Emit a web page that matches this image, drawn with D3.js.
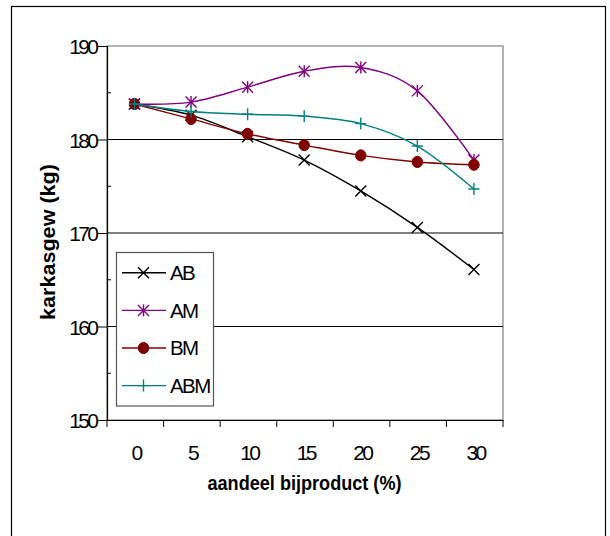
<!DOCTYPE html>
<html><head><meta charset="utf-8">
<script src="https://cdnjs.cloudflare.com/ajax/libs/d3/7.8.5/d3.min.js"></script>
<style>body{margin:0;background:#fff}svg{display:block}text{font-family:"Liberation Sans",Arial,sans-serif}</style>
</head><body>
<svg id="c" width="610" height="536"></svg>
<script>
const categories = ["0","5","10","15","20","25","30"];
const seriesNames = ["AB","AM","BM","ABM"];
const valuesAB  = [183.8, 182.6, 180.3, 177.8, 174.5, 170.6, 166.1];
const valuesAM  = [183.8, 184.0, 185.6, 187.3, 187.7, 185.2, 177.8];
const valuesBM  = [183.8, 182.2, 180.6, 179.4, 178.3, 177.6, 177.3];
const valuesABM = [183.8, 183.0, 182.7, 182.5, 181.7, 179.3, 174.7];
const yTicks = [150, 160, 170, 180, 190];
const yMinorTicks = [155, 165, 175, 185];
const yGrid = [160, 170, 180];
const xTitle = "aandeel bijproduct (%)";
const yTitle = "karkasgew (kg)";

const colors = ["#000000", "#800080", "#800000", "#008080"];
const markers = ["x", "star", "circle", "plus"];
const allValues = [valuesAB, valuesAM, valuesBM, valuesABM];
const series = seriesNames.map((n,i)=>({name:n, values:allValues[i], color:colors[i], marker:markers[i]}));

const svg = d3.select("#c");
const L=107, R=503, T=46, B=420;
const x = d3.scaleBand().domain(categories).range([L,R]);
const y = d3.scaleLinear().domain([150,190]).range([B,T]);
const cx = d => x(d)+x.bandwidth()/2 - 0.8;

// outer frame
svg.append("rect").attr("x",11.5).attr("y",6.5).attr("width",594).attr("height",560)
  .attr("fill","none").attr("stroke","#000").attr("stroke-width",1.2);

// plot border (gray)
svg.append("rect").attr("x",L).attr("y",T).attr("width",R-L).attr("height",B-T)
  .attr("fill","none").attr("stroke","#808080").attr("stroke-width",1.2);

// gridlines
svg.append("g").selectAll("line").data(yGrid).join("line")
  .attr("x1",L).attr("x2",R).attr("y1",d=>y(d)).attr("y2",d=>y(d))
  .attr("stroke","#000").attr("stroke-width",1);

// y axis
const yAxis = d3.axisLeft(y).tickValues(yTicks).tickSize(9).tickPadding(4).tickFormat(d3.format("d"));
const gy = svg.append("g").attr("transform",`translate(${L},0)`).call(yAxis);
gy.select(".domain").attr("stroke","#000").attr("stroke-width",1.2);
gy.selectAll(".tick line").attr("stroke","#000").attr("x2",-9);
gy.selectAll(".tick text").attr("font-size",21).attr("letter-spacing","-2.6px").attr("fill","#000")
  .attr("font-family","Liberation Sans, Arial, sans-serif").attr("dx","2.4").attr("dy","0.36em");
svg.append("g").selectAll("line").data(yMinorTicks).join("line")
  .attr("x1",L).attr("x2",L+4).attr("y1",d=>y(d)).attr("y2",d=>y(d)).attr("stroke","#000");

// x axis
const xAxis = d3.axisBottom(x).tickSize(0).tickPadding(0);
const gx = svg.append("g").attr("transform",`translate(0,${B})`).call(xAxis);
gx.select(".domain").attr("stroke","#000").attr("stroke-width",1.2);
gx.selectAll(".tick text").attr("font-size",21).attr("letter-spacing","-2.6px").attr("fill","#000")
  .attr("font-family","Liberation Sans, Arial, sans-serif").attr("y",39.5).attr("dy",null).attr("dx","0.8");
const bounds = categories.map(c=>x(c)).concat([R]);
svg.append("g").selectAll("line").data(bounds).join("line")
  .attr("x1",d=>d).attr("x2",d=>d).attr("y1",B).attr("y2",B+7).attr("stroke","#000");

// titles
svg.append("text").attr("x",304.5).attr("y",490).attr("text-anchor","middle")
  .attr("font-size",20).attr("font-weight","bold").attr("textLength",194).attr("lengthAdjust","spacingAndGlyphs")
  .text(xTitle);
svg.append("text").attr("transform","translate(54.5,242) rotate(-90)").attr("text-anchor","middle")
  .attr("font-size",20).attr("font-weight","bold").attr("textLength",156).attr("lengthAdjust","spacingAndGlyphs")
  .text(yTitle);

function drawMarker(g, type, color, px, py){
  const s=5.5;
  if(type==="x"||type==="star"){
    g.append("path").attr("d",`M${px-s},${py-s}L${px+s},${py+s}M${px-s},${py+s}L${px+s},${py-s}`)
      .attr("stroke",color).attr("stroke-width",1.4).attr("fill","none");
  }
  if(type==="star"){
    g.append("path").attr("d",`M${px},${py-s-0.5}L${px},${py+s+0.5}`)
      .attr("stroke",color).attr("stroke-width",1.4);
  }
  if(type==="plus"){
    g.append("path").attr("d",`M${px-s},${py}L${px+s},${py}M${px},${py-s-0.5}L${px},${py+s+0.5}`)
      .attr("stroke",color).attr("stroke-width",1.4);
  }
  if(type==="circle"){
    g.append("ellipse").attr("cx",px).attr("cy",py).attr("rx",5.2).attr("ry",5.6)
      .attr("fill",color).attr("stroke",color).attr("stroke-width",1);
  }
}

const line = d3.line().x((d,i)=>cx(categories[i])).y(d=>y(d)).curve(d3.curveCardinal.tension(0));
series.forEach(s=>{
  const g = svg.append("g");
  g.append("path").attr("d",line(s.values)).attr("fill","none").attr("stroke",s.color).attr("stroke-width",1.4);
  s.values.forEach((v,i)=>drawMarker(g,s.marker,s.color,cx(categories[i]),y(v)));
});

// legend
const lg = svg.append("g");
lg.append("rect").attr("x",116.5).attr("y",252.5).attr("width",97).attr("height",153.5)
  .attr("fill","#fff").attr("stroke","#555").attr("stroke-width",1.2);
series.forEach((s,i)=>{
  const ly = 272.8 + i*37.6;
  lg.append("line").attr("x1",122).attr("x2",166).attr("y1",ly).attr("y2",ly).attr("stroke",s.color).attr("stroke-width",1.4);
  drawMarker(lg,s.marker,s.color,143.5,ly);
  lg.append("text").attr("x",170).attr("y",ly+7.3).attr("font-size",20.5).attr("letter-spacing","-1.6px").attr("fill","#000").text(s.name);
});
</script>
</body></html>
